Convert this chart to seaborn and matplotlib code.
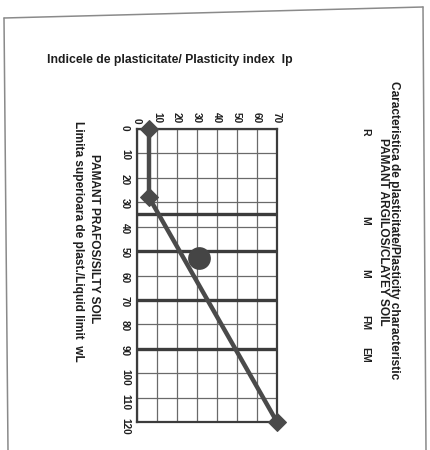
import matplotlib
matplotlib.use("Agg")
import matplotlib.pyplot as plt
from matplotlib.lines import Line2D
import pandas as pd
import seaborn as sns

# Plasticity chart data (liquid limit wL vs plasticity index Ip)
ip_ticks = [0, 10, 20, 30, 40, 50, 60, 70]
wl_ticks = [0, 10, 20, 30, 40, 50, 60, 70, 80, 90, 100, 110, 120]
line_ip = [6, 6, 70]
line_wl = [0, 28, 120]
sample_ip = [31]
sample_wl = [53]
zone_limits = [35, 50, 70, 90]
zone_names = ["R", "M", "M", "FM", "EM"]

sns.set_theme(style="white")
plt.rcParams["font.family"] = ["Liberation Sans", "DejaVu Sans"]
plt.rcParams["font.weight"] = "bold"

W, H = 430, 450
fig = plt.figure(figsize=(W / 100, H / 100), dpi=100)


def fx(x):
    return x / W


def fy(y):
    return 1 - y / H


ax = fig.add_axes([fx(137), fy(422), (277 - 137) / W, (422 - 129) / H])

ink = "#3c3c3c"

ax.set_xlim(0, 70)
ax.set_ylim(120, 0)
ax.set_xticks(ip_ticks)
ax.set_yticks(wl_ticks)
ax.grid(True, color="#6a6a6a", lw=0.9)
ax.xaxis.tick_top()
ax.tick_params(length=0, labelsize=7.2, colors="#1e1e1e")
ax.tick_params(axis="x", pad=4)
ax.tick_params(axis="y", pad=5)
for lab in ax.get_xticklabels() + ax.get_yticklabels():
    lab.set_rotation(-90)
    lab.set_fontweight("bold")
for s in ax.spines.values():
    s.set_color(ink)
    s.set_linewidth(1.6)

# zone boundaries of the clayey soil classes
for v in zone_limits:
    ax.axhline(v, color=ink, lw=2.4, zorder=2)

df_line = pd.DataFrame({"ip": line_ip, "wl": line_wl})
sns.lineplot(data=df_line, x="ip", y="wl", sort=False, estimator=None, ax=ax,
             color="#4a4a4a", lw=3.2, marker="D", markersize=9,
             markeredgecolor="#4a4a4a", clip_on=False, zorder=4)

df_pt = pd.DataFrame({"ip": sample_ip, "wl": sample_wl})
sns.scatterplot(data=df_pt, x="ip", y="wl", ax=ax, s=230, color="#454545",
                edgecolor="#454545", clip_on=False, zorder=5)
ax.set_xlabel("")
ax.set_ylabel("")

txt = dict(color="#1e1e1e", fontweight="bold", ha="center", va="center")
fig.text(fx(170), fy(60), "Indicele de plasticitate/ Plasticity index  Ip",
         fontsize=8.8, **txt)
fig.text(fx(394), fy(230), "Caracteristica de plasticitate/Plasticity characteristic",
         fontsize=8.6, rotation=-90, **txt)
fig.text(fx(383), fy(232), "PAMANT ARGILOS/CLAYEY SOIL",
         fontsize=8.6, rotation=-90, **txt)
for name, yy in zip(zone_names, [132, 220, 273, 323, 355]):
    fig.text(fx(365), fy(yy), name, fontsize=7.5, rotation=-90, **txt)
fig.text(fx(94), fy(239), "PAMANT PRAFOS/SILTY SOIL",
         fontsize=8.6, rotation=-90, **txt)
fig.text(fx(78), fy(241), "Limita superioara de plast./Liquid limit  wL",
         fontsize=8.6, rotation=-90, **txt)

# page border
border = dict(color="#8a8a8a", lw=1.1, transform=fig.transFigure)
fig.add_artist(Line2D([fx(4), fx(423)], [fy(18), fy(7)], **border))
fig.add_artist(Line2D([fx(4), fx(8)], [fy(18), fy(450)], **border))
fig.add_artist(Line2D([fx(423), fx(426)], [fy(7), fy(450)], **border))

fig.savefig("out.png", dpi=100, facecolor="white")
